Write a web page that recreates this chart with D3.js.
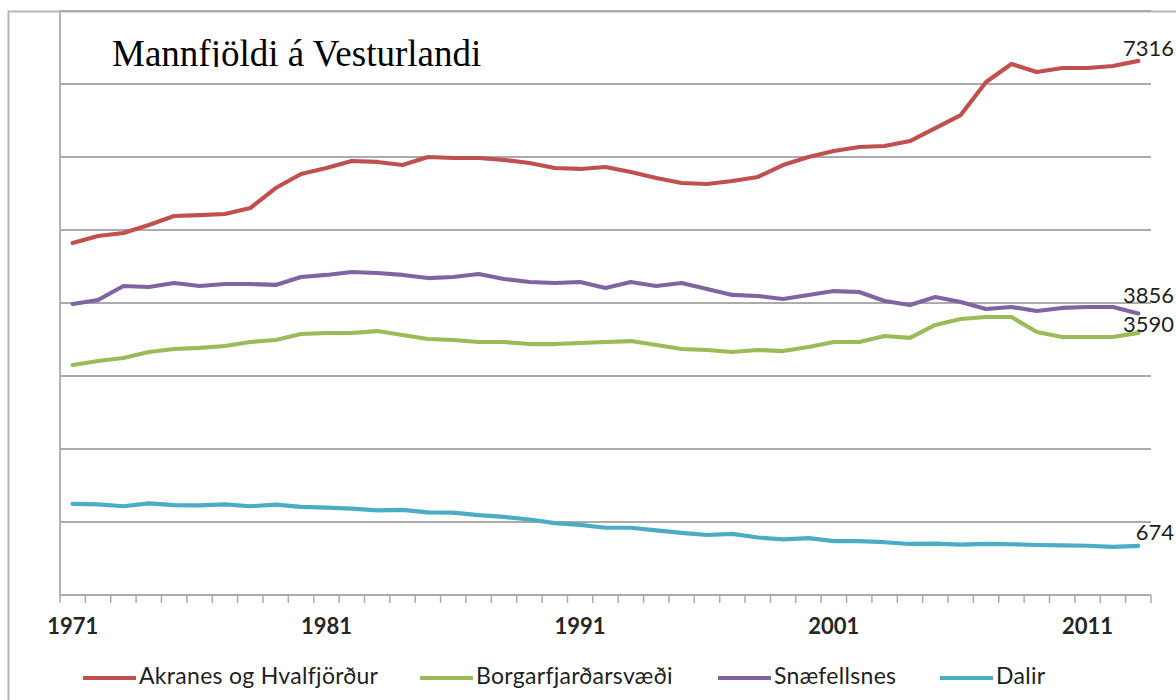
<!DOCTYPE html>
<html><head><meta charset="utf-8">
<script src="https://cdn.jsdelivr.net/npm/d3@7"></script>
<style>body{margin:0;background:#fff}svg{display:block}</style>
</head><body><svg id="c" width="1176" height="700"></svg>
<script>
const years = [1971,1972,1973,1974,1975,1976,1977,1978,1979,1980,1981,1982,1983,1984,1985,1986,1987,1988,1989,1990,1991,1992,1993,1994,1995,1996,1997,1998,1999,2000,2001,2002,2003,2004,2005,2006,2007,2008,2009,2010,2011,2012,2013];
const akranes = [4822,4918,4959,5068,5192,5205,5219,5301,5575,5767,5849,5945,5932,5890,6000,5986,5986,5959,5918,5849,5836,5863,5795,5712,5644,5630,5671,5726,5890,6000,6082,6137,6151,6219,6397,6575,7027,7274,7164,7219,7219,7247,7316];
const borgarfjordur = [3151,3205,3247,3329,3370,3384,3411,3466,3493,3575,3589,3589,3616,3562,3507,3493,3466,3466,3438,3438,3452,3466,3479,3425,3370,3356,3329,3356,3342,3397,3466,3466,3548,3521,3699,3781,3808,3808,3603,3534,3534,3534,3590];
const snaefellsnes = [3986,4041,4233,4219,4274,4233,4260,4260,4247,4356,4384,4425,4411,4384,4342,4356,4397,4329,4288,4274,4288,4205,4288,4233,4274,4192,4110,4096,4055,4110,4164,4151,4027,3973,4082,4014,3918,3945,3890,3932,3945,3945,3856];
const dalir = [1247,1241,1216,1256,1232,1227,1241,1216,1237,1207,1197,1182,1158,1167,1133,1129,1094,1069,1034,985,960,921,921,886,852,822,837,788,763,778,739,739,723,699,704,690,699,695,685,680,675,660,674];
const seriesNames = ["Akranes og Hvalfjörður","Borgarfjarðarsvæði","Snæfellsnes","Dalir"];
const seriesColors = ["#C0504D","#9BBB59","#8064A2","#4BACC6"];
const endLabels = ["7316","3590","3856","674"];
const yTicks = [0,1000,2000,3000,4000,5000,6000,7000,8000];
const xTickLabels = ["1971","1981","1991","2001","2011"];
const titleText = "Mannfjöldi á Vesturlandi";

// layout (positions only)
const L = 60, R = 1151, T = 11, B = 595;
const legendX = [83, 420, 718, 940];
const labelDy = [-5, -1, -11, -6];
const legendDrawOrder = [0, 1, 2, 3];

const seriesData = [akranes, borgarfjordur, snaefellsnes, dalir];
const svg = d3.select("#c");

const x = d3.scaleBand().domain(years).range([L, R]).padding(0);
const cx = d => x(d) + x.bandwidth() / 2;
const y = d3.scaleLinear().domain([0, 8000]).range([B, T]);

// outer frame
svg.append("rect").attr("x", 8.5).attr("y", 11.5).attr("width", 1200).attr("height", 720)
  .attr("fill", "none").attr("stroke", "#b4b4b4").attr("stroke-width", 2);

// gridlines
svg.append("g").selectAll("line").data(yTicks.filter(v => v > 0)).join("line")
  .attr("x1", L).attr("x2", R).attr("y1", d => y(d)).attr("y2", d => y(d))
  .attr("stroke", "#ababab").attr("stroke-width", 1.8);

// y axis line
svg.append("line").attr("x1", L).attr("x2", L).attr("y1", T).attr("y2", B)
  .attr("stroke", "#ababab").attr("stroke-width", 1.8);

// x axis
svg.append("line").attr("x1", L).attr("x2", R).attr("y1", B).attr("y2", B)
  .attr("stroke", "#ababab").attr("stroke-width", 1.8);
const tickPos = years.map(d => x(d)).concat([R]);
svg.append("g").selectAll("line").data(tickPos).join("line")
  .attr("x1", d => d).attr("x2", d => d).attr("y1", B).attr("y2", B + 8)
  .attr("stroke", "#ababab").attr("stroke-width", 1.5);
svg.append("g").selectAll("text").data(xTickLabels).join("text")
  .attr("x", d => cx(+d)).attr("y", 634).attr("text-anchor", "middle")
  .attr("font-family", "Lato").attr("font-weight", "bold").attr("font-size", 22)
  .attr("fill", "#262626").text(d => d);

// title (clipped at bottom like the reference)
svg.append("clipPath").attr("id", "tclip").append("rect")
  .attr("x", L + 2).attr("y", T + 2).attr("width", 600).attr("height", 54);
svg.append("text").attr("clip-path", "url(#tclip)")
  .attr("x", 112).attr("y", 66).attr("font-family", "Liberation Serif")
  .attr("font-size", 37).attr("fill", "#000").text(titleText);

// lines
const line = d3.line().x((d, i) => cx(years[i])).y(d => y(d));
svg.append("g").selectAll("path").data(seriesData).join("path")
  .attr("d", d => line(d)).attr("fill", "none")
  .attr("stroke", (d, i) => seriesColors[i]).attr("stroke-width", 4.2)
  .attr("stroke-linejoin", "round").attr("stroke-linecap", "round");

// end labels
svg.append("g").selectAll("text").data(seriesData).join("text")
  .attr("x", 1174).attr("y", (d, i) => y(d[d.length - 1]) + labelDy[i])
  .attr("text-anchor", "end").attr("font-family", "Lato").attr("font-size", 22)
  .attr("fill", "#1f1f1f").text((d, i) => endLabels[i]);

// legend
const lg = svg.append("g").selectAll("g").data(legendDrawOrder).join("g")
  .attr("transform", i => `translate(${legendX[i]},678)`);
lg.append("line").attr("x1", 0).attr("x2", 53).attr("y1", 0).attr("y2", 0)
  .attr("stroke", i => seriesColors[i]).attr("stroke-width", 4.2);
lg.append("text").attr("x", 56).attr("y", 6).attr("font-family", "Lato")
  .attr("font-size", 23).attr("letter-spacing", 0.3).attr("fill", "#1f1f1f").text(i => seriesNames[i]);
</script></body></html>
